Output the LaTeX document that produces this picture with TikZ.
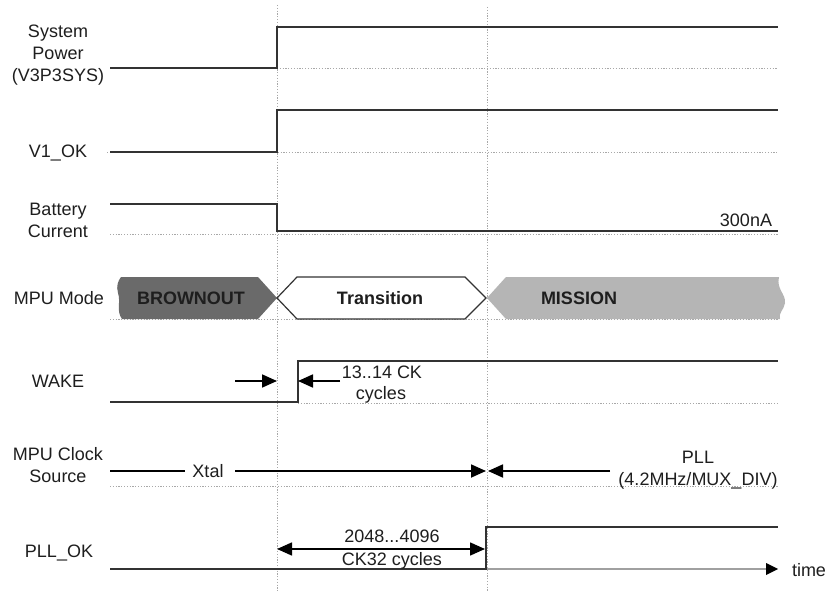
\documentclass[tikz,border=0pt]{standalone}
\usepackage{fontspec}
\setmainfont{Liberation Sans}
\usetikzlibrary{arrows.meta}
\definecolor{sigc}{HTML}{333333}
\definecolor{txtc}{HTML}{1E1E1E}
\definecolor{gridc}{HTML}{A8A8A8}
\definecolor{brownc}{HTML}{6A6A6A}
\definecolor{missc}{HTML}{B5B5B5}
\definecolor{axisc}{HTML}{A0A0A0}
\begin{document}
\begin{tikzpicture}[x=1pt,y=-1pt,
  sig/.style={draw=sigc,line width=1.9pt,line join=miter},
  gridline/.style={draw=gridc,line width=0.9pt,dash pattern=on 1.2pt off 1.6pt},
  lbl/.style={font=\fontsize{18}{22}\selectfont,text=txtc,inner sep=0pt,anchor=base},
  blbl/.style={lbl,font=\fontsize{18}{22}\selectfont\bfseries},
  arr/.style={draw=black,line width=1.8pt,-{Triangle[length=15pt,width=13pt]}},
  darr/.style={draw=black,line width=1.6pt,{Triangle[length=15pt,width=13pt]}-{Triangle[length=15pt,width=13pt]}}]
\useasboundingbox (0,0) rectangle (831,591);
\fill[white] (0,0) rectangle (831,591);

% vertical reference lines
\coordinate (v1t) at (277,5);  \coordinate (v1b) at (277,591);
\coordinate (v2t) at (487,7);  \coordinate (v2b) at (487,591);
\draw[gridline] (v1t) -- (v1b);
\draw[gridline] (v2t) -- (v2b);

% horizontal dotted baselines
\draw[gridline] (277,68) -- (778,68);
\draw[gridline] (107,152) -- (778,152);
\draw[gridline] (110,234) -- (778,234);
\draw[gridline] (110,319) -- (778,319);
\draw[gridline] (298,403) -- (778,403);
\draw[gridline] (110,486) -- (778,486);

% labels
\node[lbl] (l1a) at (58,38) {System};
\node[lbl] (l1b) at (58,60) {Power};
\node[lbl] (l1c) at (58,82) {(V3P3SYS)};
\node[lbl] (l2) at (58,158) {V1\_OK};
\node[lbl] (l3a) at (58,215) {Battery};
\node[lbl] (l3b) at (58,237) {Current};
\node[lbl] (l4) at (59,305) {MPU Mode};
\node[lbl] (l5) at (58,387) {WAKE};
\node[lbl] (l6a) at (58,460) {MPU Clock};
\node[lbl] (l6b) at (58,482) {Source};
\node[lbl] (l7) at (59,557) {PLL\_OK};

% System Power
\draw[sig] (110,68) -- (277,68) -- (277,27) -- (778,27);
% V1_OK
\draw[sig] (110,152) -- (277,152) -- (277,110) -- (778,110);
% Battery current
\draw[sig] (110,204) -- (277,204) -- (277,231) -- (778,231);
\node[lbl] (na) at (746,227) {300nA};

% MPU Mode bus
\fill[brownc] (121,277) -- (258,277) -- (277,298) -- (258,319) -- (122,319)
  .. controls (116,311) and (121,302) .. (118,293)
  .. controls (116,286) and (118,281) .. (121,277) -- cycle;
\filldraw[fill=white,draw=sigc,line width=1.2pt] (277,298) -- (297,277) -- (465,277) -- (486,298) -- (465,319) -- (297,319) -- cycle;
\fill[missc] (487,298) -- (506,277) -- (779,277)
  .. controls (776,289) and (786,294) .. (785,303)
  .. controls (784,310) and (778,313) .. (780,319) -- (506,319) -- cycle;
\node[blbl] (bo) at (191,304) {BROWNOUT};
\node[lbl] (tr) at (380,305) {\bfseries Transition};
\node[blbl] (mi) at (579,304) {MISSION};

% WAKE
\draw[sig] (110,402) -- (298,402) -- (298,361) -- (778,361);
\coordinate (wa1) at (235,381); \coordinate (wa1e) at (277,381);
\coordinate (wa2) at (340,381); \coordinate (wa2e) at (298,381);
\draw[arr] (wa1) -- (wa1e);
\draw[arr] (wa2) -- (wa2e);
\node[lbl] (ck1) at (382,378) {13..14 CK};
\node[lbl] (ck2) at (381,399) {cycles};

% MPU clock source
\node[lbl] (xt) at (208,477) {Xtal};
\coordinate (cs0) at (110,471); \coordinate (cs1) at (185,471);
\coordinate (cs2) at (235,471); \coordinate (cs3) at (486,471);
\coordinate (cs4) at (610,471); \coordinate (cs5) at (488,471);
\draw[draw=black,line width=1.8pt] (cs0) -- (cs1);
\draw[arr] (cs2) -- (cs3);
\draw[arr] (cs4) -- (cs5);
\node[lbl] (pll1) at (698,463) {PLL};
\node[lbl] (pll2) at (698,485) {(4.2MHz/MUX\_DIV)};

% PLL_OK
\coordinate (ax0) at (486,569); \coordinate (ax1) at (778,569);
\draw[draw=axisc,line width=1.8pt] (ax0) -- (766,569);
\fill[black] (ax1) -- (766,563) -- (766,575) -- cycle;
\node[lbl] (tm) at (809,576) {time};
\draw[sig] (110,569) -- (486,569) -- (486,527) -- (778,527);
\coordinate (d1) at (277,549); \coordinate (d2) at (485,549);
\draw[darr] (d1) -- (d2);
\node[lbl] (n1) at (392,542) {2048...4096};
\node[lbl] (n2) at (392,565) {CK32 cycles};
\end{tikzpicture}
\end{document}
